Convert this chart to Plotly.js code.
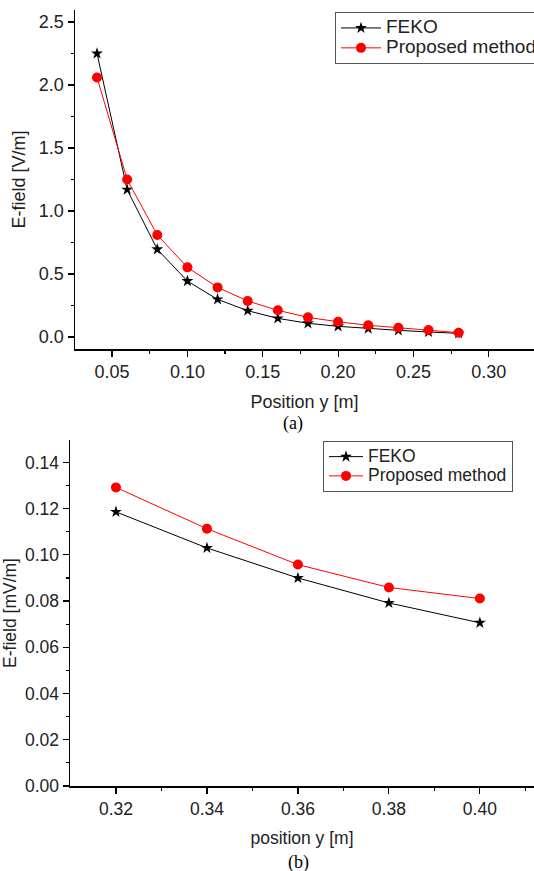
<!DOCTYPE html>
<html><head><meta charset="utf-8">
<script src="https://cdn.plot.ly/plotly-3.0.1.min.js"></script>
<style>html,body{margin:0;padding:0;background:#fff}#c{width:534px;height:871px}</style>
</head><body><div id="c"></div>
<script>
// (a) top panel
const posA = [0.04,0.06,0.08,0.10,0.12,0.14,0.16,0.18,0.20,0.22,0.24,0.26,0.28];
const fekoA = [2.25,1.17,0.696,0.444,0.299,0.209,0.148,0.109,0.085,0.066,0.053,0.040,0.029];
const propA = [2.06,1.25,0.81,0.553,0.394,0.286,0.212,0.156,0.121,0.093,0.074,0.056,0.034];
// (b) bottom panel
const posB = [0.32,0.34,0.36,0.38,0.40];
const fekoB = [0.1186,0.1030,0.0900,0.0792,0.0706];
const propB = [0.1292,0.1113,0.0958,0.0859,0.0811];
const seriesNames = ['FEKO','Proposed method'];

const W=534,H=871;
const F='"Liberation Sans", Arial, sans-serif';
const txt='#222';
function nm(s,sz){return '<span style="font-size:'+sz+'px">'+s+'</span>';}
function starTrace(x,y,xa,ya,lg,sz){return {x:x,y:y,xaxis:xa,yaxis:ya,legend:lg,name:nm(seriesNames[0],sz),mode:'lines+markers',
  line:{color:'#000',width:1},marker:{symbol:'star',size:9,color:'#000'}};}
function dotTrace(x,y,xa,ya,lg,sz){return {x:x,y:y,xaxis:xa,yaxis:ya,legend:lg,name:nm(seriesNames[1],sz),mode:'lines+markers',
  line:{color:'#ff0000',width:1},marker:{symbol:'circle',size:10,color:'#ff0000'}};}
const data=[starTrace(posA,fekoA,'x','y','legend',19),dotTrace(posA,propA,'x','y','legend',19),
            starTrace(posB,fekoB,'x2','y2','legend2',17.5),dotTrace(posB,propB,'x2','y2','legend2',17.5)];
function ax(extra){return Object.assign({showline:true,linecolor:'#000',linewidth:1.5,ticks:'outside',ticklen:6,tickwidth:1.2,tickcolor:'#000',
  showgrid:false,zeroline:false,tickfont:{family:F,size:18,color:txt},automargin:false},extra);}
const layout={
  width:W,height:H,margin:{l:0,r:0,t:0,b:0,autoexpand:false},paper_bgcolor:'#fff',plot_bgcolor:'#fff',
  font:{family:F,color:txt},
  xaxis:ax({domain:[75/W,1],anchor:'y',range:[0.0254,0.33],tickvals:[0.05,0.10,0.15,0.20,0.25,0.30],ticktext:['0.05','0.10','0.15','0.20','0.25','0.30'],
    minor:{tickvals:[0.075,0.125,0.175,0.225,0.275],ticks:'outside',ticklen:3,tickcolor:'#000'},
    title:{text:'Position y [m]',font:{family:F,size:18,color:txt},standoff:14}}),
  yaxis:ax({domain:[1-349/H,1-10/H],anchor:'x',range:[-0.095,2.595],tickvals:[0,0.5,1,1.5,2,2.5],ticktext:['0.0','0.5','1.0','1.5','2.0','2.5'],
    minor:{tickvals:[0.25,0.75,1.25,1.75,2.25],ticks:'outside',ticklen:3,tickcolor:'#000'},
    title:{text:'E-field [V/m]',font:{family:F,size:18,color:txt},standoff:8}}),
  xaxis2:ax({domain:[70/W,1],anchor:'y2',range:[0.3099,0.4119],tickvals:[0.32,0.34,0.36,0.38,0.40],ticktext:['0.32','0.34','0.36','0.38','0.40'],
    minor:{tickvals:[0.33,0.35,0.37,0.39,0.41],ticks:'outside',ticklen:3,tickcolor:'#000'},tickfont:{family:F,size:17.5,color:txt},
    title:{text:'position y [m]',font:{family:F,size:17.5,color:txt},standoff:14}}),
  yaxis2:ax({domain:[1-786/H,1-440/H],anchor:'x2',range:[0,0.1497],tickvals:[0,0.02,0.04,0.06,0.08,0.10,0.12,0.14],ticktext:['0.00','0.02','0.04','0.06','0.08','0.10','0.12','0.14'],
    minor:{tickvals:[0.01,0.03,0.05,0.07,0.09,0.11,0.13],ticks:'outside',ticklen:3,tickcolor:'#000'},tickfont:{family:F,size:17.5,color:txt},
    title:{text:'E-field [mV/m]',font:{family:F,size:17.5,color:txt},standoff:6}}),
  legend:{x:335/W,y:1-12/H,xanchor:'left',yanchor:'top',bordercolor:'#555',borderwidth:1,bgcolor:'#fff',
    font:{family:F,size:13,color:txt},tracegroupgap:0,itemwidth:40},
  legend2:{x:323/W,y:1-441/H,xanchor:'left',yanchor:'top',bordercolor:'#555',borderwidth:1,bgcolor:'#fff',
    font:{family:F,size:12.5,color:txt},tracegroupgap:0,itemwidth:34},
  annotations:[
    {text:'(a)',xref:'paper',yref:'paper',x:293/W,y:1-423/H,yanchor:'middle',showarrow:false,font:{family:'"Liberation Serif", "Times New Roman", serif',size:18,color:'#000'}},
    {text:'(b)',xref:'paper',yref:'paper',x:298/W,y:1-862/H,yanchor:'middle',showarrow:false,font:{family:'"Liberation Serif", "Times New Roman", serif',size:18,color:'#000'}}
  ],
  showlegend:true
};
Plotly.newPlot('c',data,layout,{displayModeBar:false,staticPlot:true});
</script></body></html>
